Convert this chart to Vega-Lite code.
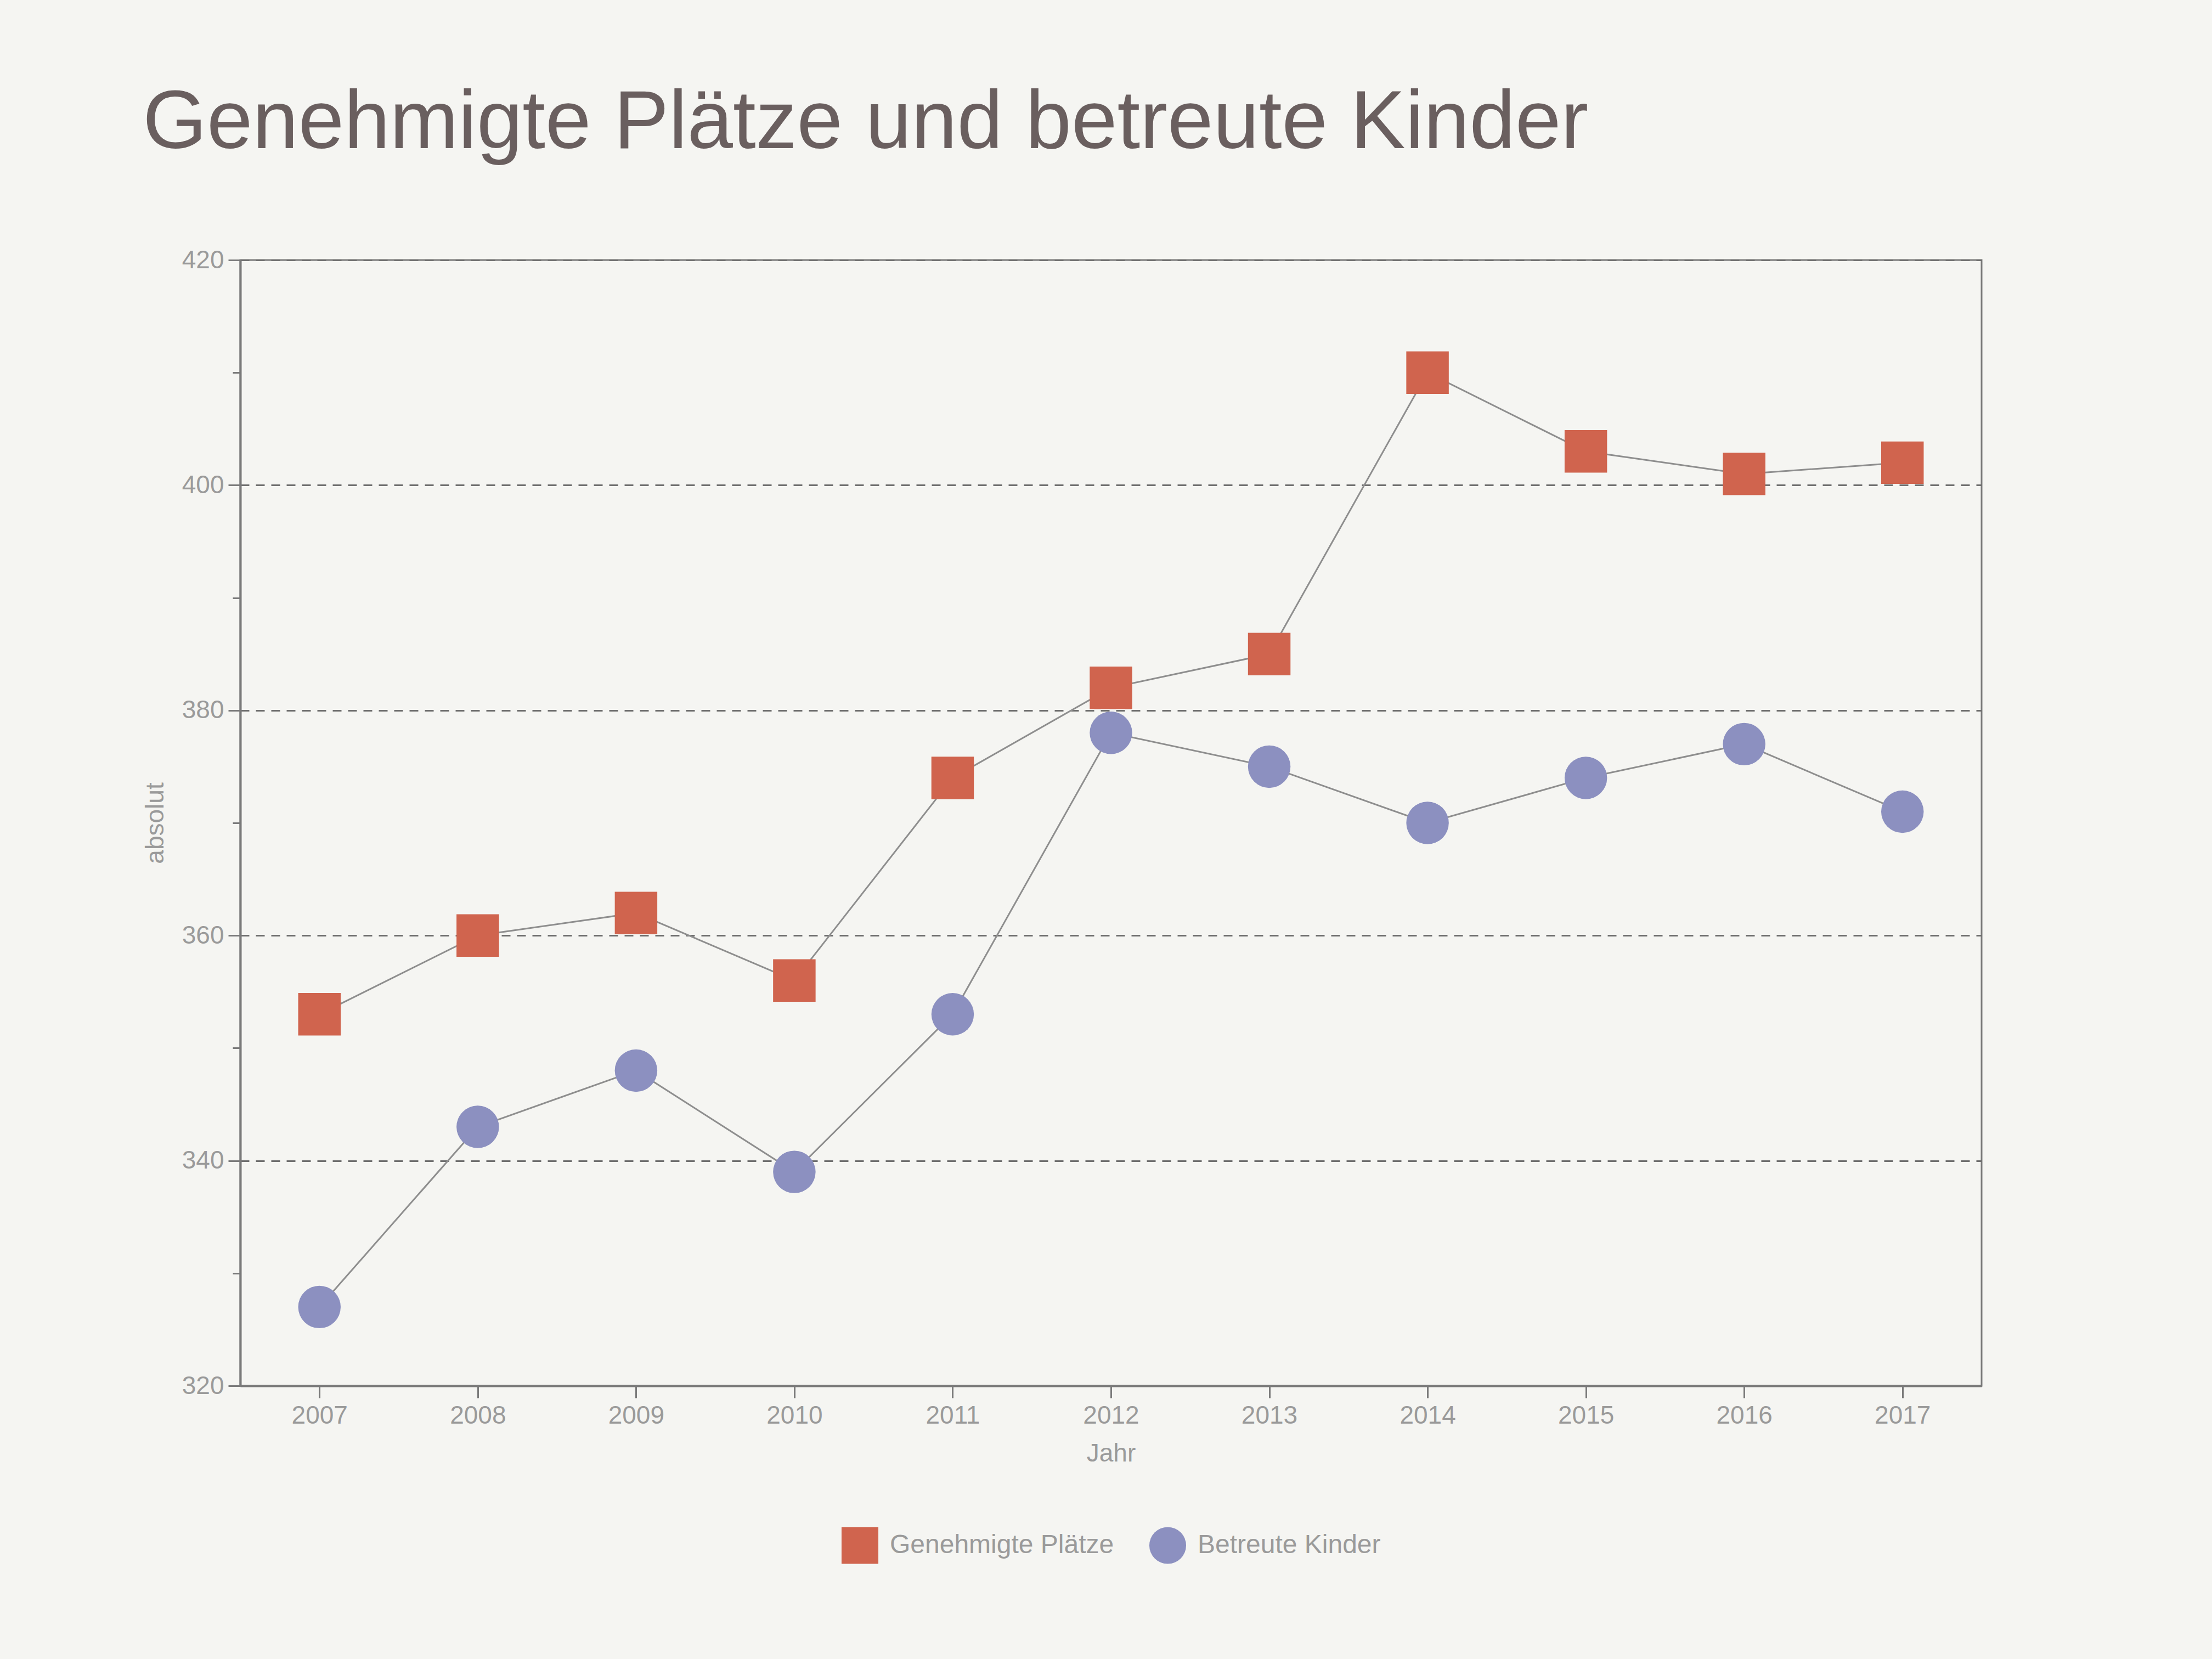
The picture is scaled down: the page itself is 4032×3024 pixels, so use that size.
{
  "$schema": "https://vega.github.io/schema/vega-lite/v6.json",
  "autosize": {"type": "fit", "contains": "padding"},
  "width": 4032,
  "height": 3024,
  "padding": {"left": 260, "right": 420, "top": 150, "bottom": 170},
  "background": "#f5f5f2",
  "title": {
    "text": "Genehmigte Plätze und betreute Kinder",
    "anchor": "start",
    "fontSize": 150,
    "font": "Liberation Sans",
    "fontWeight": "normal",
    "color": "#6a5f5f",
    "offset": 150
  },
  "data": {
    "values": [
      {"Jahr": 2007, "Reihe": "Genehmigte Plätze", "Wert": 353},
      {"Jahr": 2008, "Reihe": "Genehmigte Plätze", "Wert": 360},
      {"Jahr": 2009, "Reihe": "Genehmigte Plätze", "Wert": 362},
      {"Jahr": 2010, "Reihe": "Genehmigte Plätze", "Wert": 356},
      {"Jahr": 2011, "Reihe": "Genehmigte Plätze", "Wert": 374},
      {"Jahr": 2012, "Reihe": "Genehmigte Plätze", "Wert": 382},
      {"Jahr": 2013, "Reihe": "Genehmigte Plätze", "Wert": 385},
      {"Jahr": 2014, "Reihe": "Genehmigte Plätze", "Wert": 410},
      {"Jahr": 2015, "Reihe": "Genehmigte Plätze", "Wert": 403},
      {"Jahr": 2016, "Reihe": "Genehmigte Plätze", "Wert": 401},
      {"Jahr": 2017, "Reihe": "Genehmigte Plätze", "Wert": 402},
      {"Jahr": 2007, "Reihe": "Betreute Kinder", "Wert": 327},
      {"Jahr": 2008, "Reihe": "Betreute Kinder", "Wert": 343},
      {"Jahr": 2009, "Reihe": "Betreute Kinder", "Wert": 348},
      {"Jahr": 2010, "Reihe": "Betreute Kinder", "Wert": 339},
      {"Jahr": 2011, "Reihe": "Betreute Kinder", "Wert": 353},
      {"Jahr": 2012, "Reihe": "Betreute Kinder", "Wert": 378},
      {"Jahr": 2013, "Reihe": "Betreute Kinder", "Wert": 375},
      {"Jahr": 2014, "Reihe": "Betreute Kinder", "Wert": 370},
      {"Jahr": 2015, "Reihe": "Betreute Kinder", "Wert": 374},
      {"Jahr": 2016, "Reihe": "Betreute Kinder", "Wert": 377},
      {"Jahr": 2017, "Reihe": "Betreute Kinder", "Wert": 371}
    ]
  },
  "encoding": {
    "x": {
      "field": "Jahr",
      "type": "quantitative",
      "scale": {"domain": [2006.5, 2017.5], "nice": false, "zero": false},
      "axis": {
        "title": "Jahr",
        "values": [2007, 2008, 2009, 2010, 2011, 2012, 2013, 2014, 2015, 2016, 2017],
        "format": "d",
        "grid": false,
        "tickSize": 22,
        "labelPadding": 10
      }
    }
  },
  "layer": [
    {
      "mark": {"type": "line", "color": "#8e8e8e", "strokeWidth": 3},
      "encoding": {
        "detail": {"field": "Reihe", "type": "nominal"},
        "y": {
          "field": "Wert",
          "type": "quantitative",
          "scale": {"domain": [320, 420], "nice": false, "zero": false},
          "axis": {
            "orient": "left",
            "title": null,
            "labels": false,
            "domain": false,
            "grid": false,
            "values": [330, 350, 370, 390, 410],
            "tickSize": 14
          }
        }
      }
    },
    {
      "mark": {"type": "point", "filled": true, "opacity": 1, "size": 6000},
      "encoding": {
        "y": {
          "field": "Wert",
          "type": "quantitative",
          "scale": {"domain": [320, 420], "nice": false, "zero": false},
          "axis": {
            "orient": "left",
            "title": "absolut",
            "values": [320, 340, 360, 380, 400, 420],
            "grid": true,
            "gridDash": [16, 12],
            "gridColor": "#6e6e6e",
            "gridWidth": 3,
            "tickSize": 22,
            "labelPadding": 8
          }
        },
        "color": {
          "field": "Reihe",
          "type": "nominal",
          "scale": {"domain": ["Genehmigte Plätze", "Betreute Kinder"], "range": ["#d0644e", "#8c90c0"]},
          "legend": {"title": null}
        },
        "shape": {
          "field": "Reihe",
          "type": "nominal",
          "scale": {"domain": ["Genehmigte Plätze", "Betreute Kinder"], "range": ["square", "circle"]},
          "legend": {"title": null}
        }
      }
    }
  ],
  "resolve": {"axis": {"y": "independent"}},
  "config": {
    "font": "Liberation Sans",
    "view": {"stroke": "#7a7a7a", "strokeWidth": 3},
    "axis": {
      "domainColor": "#7a7a7a",
      "domainWidth": 4,
      "tickColor": "#7a7a7a",
      "tickWidth": 3,
      "labelColor": "#9a9a9a",
      "labelFontSize": 46,
      "titleColor": "#9a9a9a",
      "titleFontSize": 46,
      "titleFontWeight": "normal",
      "titlePadding": 24
    },
    "legend": {
      "orient": "bottom",
      "direction": "horizontal",
      "layout": {"bottom": {"anchor": "middle"}},
      "labelColor": "#9a9a9a",
      "labelFontSize": 48,
      "labelLimit": 0,
      "symbolSize": 4500,
      "symbolOpacity": 1,
      "columnPadding": 60,
      "labelOffset": 20,
      "offset": 110
    }
  }
}
